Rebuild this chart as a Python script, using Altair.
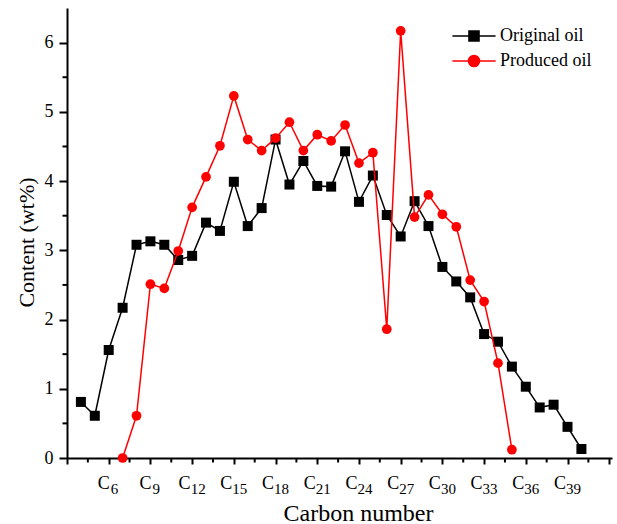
import altair as alt
import pandas as pd

FONT = "Liberation Serif"

# Data
orig_carbon = list(range(4, 41))
orig_content = [0.81, 0.61, 1.56, 2.17, 3.08, 3.13, 3.08, 2.86, 2.92, 3.40, 3.28, 3.99,
                3.35, 3.61, 4.60, 3.95, 4.29, 3.93, 3.92, 4.43, 3.70, 4.08, 3.51, 3.20,
                3.71, 3.35, 2.76, 2.55, 2.32, 1.79, 1.68, 1.32, 1.03, 0.73, 0.77, 0.45, 0.13]
prod_carbon = list(range(7, 36))
prod_content = [0.0, 0.61, 2.51, 2.45, 2.99, 3.62, 4.06, 4.51, 5.23, 4.60, 4.44, 4.62,
                4.85, 4.44, 4.67, 4.58, 4.81, 4.26, 4.41, 1.86, 6.17, 3.48, 3.80, 3.52,
                3.34, 2.57, 2.26, 1.37, 0.12]
series_names = ["Original oil", "Produced oil"]

# Axis ticks / labels
x_label_carbons = [6, 9, 12, 15, 18, 21, 24, 27, 30, 33, 36, 39]
x_label_subs = ["6", "9", "12", "15", "18", "21", "24", "27", "30", "33", "36", "39"]
x_major = [3, 6, 9, 12, 15, 18, 21, 24, 27, 30, 33, 36, 39, 42]
x_minor = [4.5, 7.5, 10.5, 13.5, 16.5, 19.5, 22.5, 25.5, 28.5, 31.5, 34.5, 37.5, 40.5]
y_major = [0, 1, 2, 3, 4, 5, 6]
y_minor = [0.5, 1.5, 2.5, 3.5, 4.5, 5.5]

orig_df = pd.DataFrame({"carbon": orig_carbon, "content": orig_content, "series": series_names[0]})
prod_df = pd.DataFrame({"carbon": prod_carbon, "content": prod_content, "series": series_names[1]})
all_df = pd.concat([orig_df, prod_df], ignore_index=True)
lab_df = pd.DataFrame({"carbon": x_label_carbons, "sub": x_label_subs})
xminor_df = pd.DataFrame({"v": x_minor})
yminor_df = pd.DataFrame({"v": y_minor})

W, H = 545, 450

xscale = alt.Scale(domain=[3, 42.2], nice=False, zero=False)
yscale = alt.Scale(domain=[0, 6.5], nice=False, zero=True)

xaxis = alt.Axis(values=x_major, labels=False, tickSize=6, tickWidth=2, domainWidth=2,
                 domainColor="black", tickColor="black", grid=False,
                 title="Carbon number", titleFont=FONT, titleFontSize=24,
                 titleFontWeight="normal", titleColor="black",
                 titleX=291, titleY=62, titleBaseline="alphabetic", titleAlign="center")
yaxis = alt.Axis(values=y_major, format="d", tickSize=8, tickWidth=2, domainWidth=2,
                 domainColor="black", tickColor="black", grid=False,
                 labelFont=FONT, labelFontSize=18, labelColor="black", labelPadding=6,
                 title="Content (wt%)", titleFont=FONT, titleFontSize=22,
                 titleFontWeight="normal", titleColor="black",
                 titleX=-34, titleY=234, titleAngle=-90, titleBaseline="alphabetic",
                 titleAlign="center")

X = alt.X("carbon:Q", scale=xscale, axis=xaxis)
Y = alt.Y("content:Q", scale=yscale, axis=yaxis)

base_o = alt.Chart(orig_df)
base_p = alt.Chart(prod_df)

line_o = base_o.mark_line(color="black", strokeWidth=1.5).encode(x=X, y=Y)
pts_o = base_o.mark_point(shape="square", filled=True, size=100, color="black",
                          opacity=1).encode(x="carbon:Q", y="content:Q")
line_p = base_p.mark_line(color="#ff0000", strokeWidth=1.5).encode(x="carbon:Q", y="content:Q")
pts_p = base_p.mark_point(shape="circle", filled=True, size=95, color="#ff0000",
                          opacity=1).encode(x="carbon:Q", y="content:Q")

# Legend-only layer (no visible data); symbol unit = 12 px (size 576)
sq_path = "M-1.8,0H1.8M-0.42,-0.42H0.42V0.42H-0.42Z"
ci_path = "M-1.8,0H-0.46A0.46,0.46,0,1,1,0.46,0H1.8M0.46,0A0.46,0.46,0,1,1,-0.46,0"
leg = alt.Legend(title=None, orient="none", legendX=394, legendY=15)
legend_layer = alt.Chart(all_df).mark_point(filled=True, strokeWidth=1.5, opacity=1).encode(
    x="carbon:Q", y="content:Q",
    shape=alt.Shape("series:N", scale=alt.Scale(domain=series_names, range=[sq_path, ci_path]), legend=leg),
    color=alt.Color("series:N", scale=alt.Scale(domain=series_names, range=["black", "#ff0000"]), legend=leg),
    stroke=alt.Stroke("series:N", scale=alt.Scale(domain=series_names, range=["black", "#ff0000"]), legend=leg),
).transform_filter("datum.content < -100")

# Minor ticks
xminor = alt.Chart(xminor_df).mark_rule(color="black", strokeWidth=2).encode(
    x="v:Q", y=alt.value(H), y2=alt.value(H + 4.5))
yminor = alt.Chart(yminor_df).mark_rule(color="black", strokeWidth=2).encode(
    y="v:Q", x=alt.value(0), x2=alt.value(-4.5))

# X tick labels: "C" with subscript number
c1 = alt.Chart(lab_df).mark_text(text="C", align="right", baseline="alphabetic", font=FONT,
                                 fontSize=18, color="black", dx=1).encode(
    x="carbon:Q", y=alt.value(H + 31)).transform_filter("datum.carbon < 10")
c2 = alt.Chart(lab_df).mark_text(text="C", align="right", baseline="alphabetic", font=FONT,
                                 fontSize=18, color="black", dx=-1.5).encode(
    x="carbon:Q", y=alt.value(H + 31)).transform_filter("datum.carbon >= 10")
s1 = alt.Chart(lab_df).mark_text(align="left", baseline="alphabetic", font=FONT,
                                 fontSize=15, color="black", dx=2).encode(
    x="carbon:Q", y=alt.value(H + 36), text="sub:N").transform_filter("datum.carbon < 10")
s2 = alt.Chart(lab_df).mark_text(align="left", baseline="alphabetic", font=FONT,
                                 fontSize=15, color="black", dx=-1.5).encode(
    x="carbon:Q", y=alt.value(H + 36), text="sub:N").transform_filter("datum.carbon >= 10")

chart = alt.layer(
    line_o, pts_o, line_p, pts_p, legend_layer, xminor, yminor, c1, c2, s1, s2
).properties(
    width=W, height=H,
    autosize=alt.AutoSizeParams(type="none"),
    padding={"left": 67, "top": 8, "right": 5, "bottom": 66},
    background="white",
).configure_view(stroke=None).configure_legend(
    padding=0, symbolSize=576, symbolStrokeWidth=1.5, labelFont=FONT,
    labelFontSize=18, labelColor="black", labelOffset=13, rowPadding=3,
    labelLimit=300,
)

chart.save("out.html", embed_options={"renderer": "svg", "actions": False})
